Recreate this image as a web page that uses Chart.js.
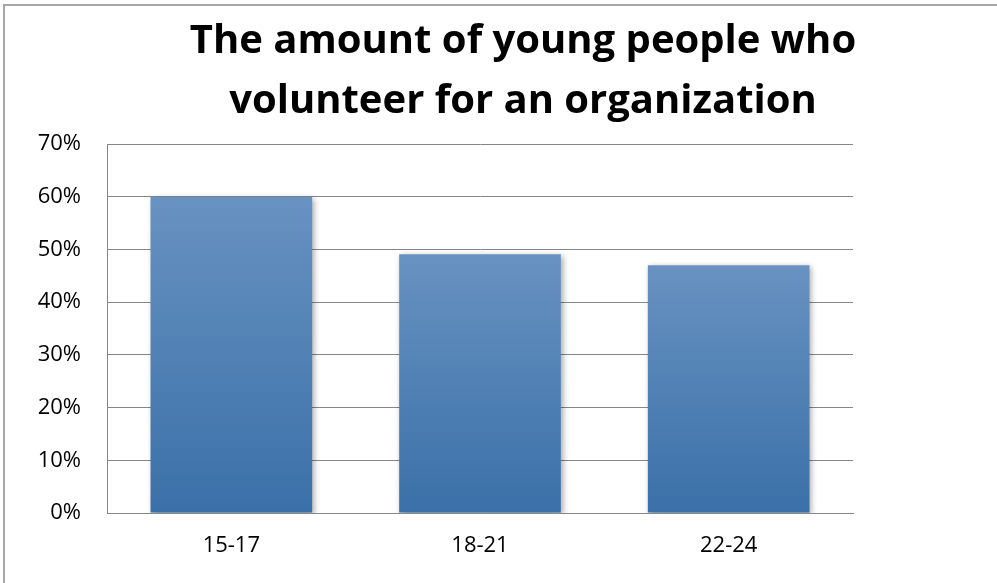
<!DOCTYPE html>
<html>
<head>
<meta charset="utf-8">
<script src="https://cdn.jsdelivr.net/npm/chart.js@4/dist/chart.umd.min.js"></script>
<style>
  html, body { margin: 0; padding: 0; background: #fff; overflow: hidden; }
  #frame {
    position: absolute;
    left: 3px;
    top: 4px;
    width: 2000px;
    height: 2000px;
    border-top: 2px solid #a6a6a6;
    border-left: 2px solid #a6a6a6;
  }
  #chart { position: absolute; left: 0; top: 0; }
</style>
</head>
<body>
<div id="frame"></div>
<canvas id="chart" width="997" height="583"></canvas>
<script>
// chart data
const titleLines = ["The amount of young people who", "volunteer for an organization"];
const ageGroups = ["15-17", "18-21", "22-24"];
const volunteerShare = [60, 49.1, 47.0];
const yMax = 70;
const yStep = 10;

const barTop = "#6892c1";
const barBottom = "#3a70a8";
const gridColor = "#868686";

// title drawn centred on the chart frame (frame is wider than the window)
const titlePlugin = {
  id: "frameTitle",
  afterDraw(chart) {
    const ctx = chart.ctx;
    ctx.save();
    ctx.fillStyle = "#000";
    ctx.font = "bold 40px 'Open Sans'";
    ctx.textAlign = "center";
    ctx.textBaseline = "alphabetic";
    titleLines.forEach((line, i) => {
      ctx.fillText(line, 523, 53 + i * 60);
    });
    ctx.restore();
  },
};

// soft shadow under the bars
const shadowPlugin = {
  id: "barShadow",
  beforeDatasetsDraw(chart) {
    const ctx = chart.ctx;
    ctx.save();
    ctx.shadowColor = "rgba(0,0,0,0.35)";
    ctx.shadowBlur = 6;
    ctx.shadowOffsetX = 2;
    ctx.shadowOffsetY = 2;
  },
  afterDatasetsDraw(chart) {
    chart.ctx.restore();
  },
};

function barGradient(context) {
  const chart = context.chart;
  if (!chart.chartArea || !chart.scales.y) return barBottom;
  const y = chart.scales.y;
  const top = y.getPixelForValue(context.raw);
  const bottom = y.getPixelForValue(0);
  const g = chart.ctx.createLinearGradient(0, top, 0, bottom);
  g.addColorStop(0, barTop);
  g.addColorStop(1, barBottom);
  return g;
}

new Chart(document.getElementById("chart").getContext("2d"), {
  type: "bar",
  data: {
    labels: ageGroups,
    datasets: [
      {
        data: volunteerShare,
        backgroundColor: barGradient,
        borderWidth: 0,
        barPercentage: 0.65,
        categoryPercentage: 1,
      },
    ],
  },
  options: {
    responsive: false,
    animation: false,
    devicePixelRatio: 1,
    layout: {
      padding: { top: 144, right: 144, left: 0, bottom: 0 },
    },
    plugins: {
      legend: { display: false },
      title: { display: false },
      tooltip: { enabled: false },
    },
    scales: {
      x: {
        grid: { display: false, drawTicks: false },
        border: { color: gridColor, width: 1 },
        ticks: {
          color: "#000",
          font: { family: "'Open Sans'", size: 22 },
          padding: 20,
          maxRotation: 0,
        },
        afterFit(scale) {
          scale.height = 70;
        },
      },
      y: {
        min: 0,
        max: yMax,
        grid: { color: gridColor, lineWidth: 1, drawTicks: false },
        border: { color: gridColor, width: 1 },
        ticks: {
          stepSize: yStep,
          color: "#000",
          font: { family: "'Open Sans'", size: 22 },
          padding: 26,
          callback: (v) => v + "%",
        },
        afterFit(scale) {
          scale.width = 107;
        },
      },
    },
  },
  plugins: [shadowPlugin, titlePlugin],
});
</script>
</body>
</html>
